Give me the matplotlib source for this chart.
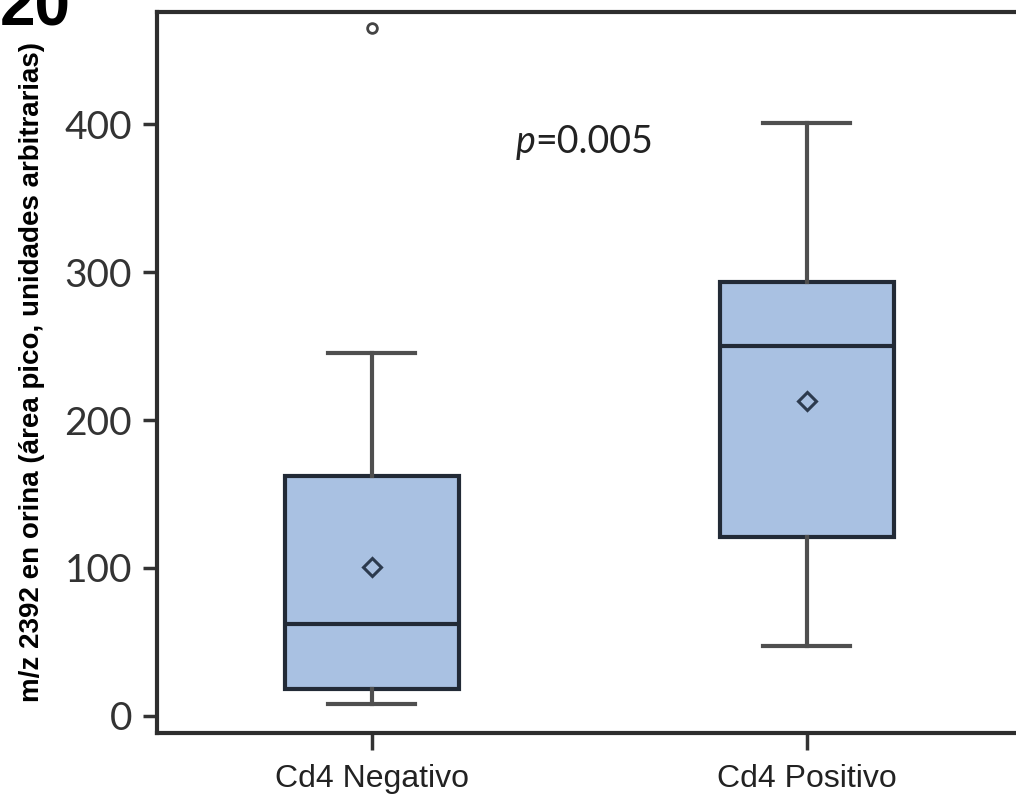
import matplotlib
matplotlib.use("Agg")
import matplotlib.pyplot as plt
from matplotlib import font_manager

#%% datos
grupos = ["Cd4 Negativo", "Cd4 Positivo"]
q1 = [18, 121]
mediana = [62, 250]
q3 = [162, 293]
bigote_inf = [8, 47]
bigote_sup = [245, 401]
media = [101, 213]
atipicos = [[465], []]

yticks = [0, 100, 200, 300, 400]
p_texto = "=0.005"

#%% fuentes
nombres = {f.name for f in font_manager.fontManager.ttflist}
fuente_eje = "Liberation Sans Narrow" if "Liberation Sans Narrow" in nombres else "Liberation Sans"
fuente_num = "Lato"

#%% grafico
fig = plt.figure(figsize=(10.16, 7.98), dpi=100)
ax = fig.add_axes([157/1016, 1 - 733/798, (1024 - 157)/1016, (733 - 12)/798])

stats = []
for i in range(len(grupos)):
    stats.append({
        "label": grupos[i], "q1": q1[i], "med": mediana[i], "q3": q3[i],
        "whislo": bigote_inf[i], "whishi": bigote_sup[i],
        "mean": media[i], "fliers": atipicos[i],
    })

ax.bxp(stats, positions=[0, 1], widths=0.40, patch_artist=True,
       showmeans=True, showcaps=True,
       boxprops=dict(facecolor="#a9c1e2", edgecolor="#222a36", linewidth=3),
       medianprops=dict(color="#222a36", linewidth=3),
       whiskerprops=dict(color="#4f4f4f", linewidth=3),
       capprops=dict(color="#4f4f4f", linewidth=3),
       meanprops=dict(marker="D", markersize=9, markerfacecolor="none",
                      markeredgecolor="#2c3a4e", markeredgewidth=2.2),
       flierprops=dict(marker="o", markersize=7, markerfacecolor="none",
                       markeredgecolor="#444444", markeredgewidth=2))

ax.set_xlim(-0.494, 1.5)
ax.set_ylim((716 - 733) / 1.48, (716 - 12) / 1.48)
ax.set_yticks(yticks)
ax.set_yticklabels([str(v) for v in yticks], fontsize=28, family=fuente_num, color="#333333")
ax.set_xticks([0, 1])
ax.set_xticklabels(grupos, fontsize=23, family="Liberation Sans", color="#222222")
ax.tick_params(axis="y", length=10, width=2.5, color="#333333", pad=8)
ax.tick_params(axis="x", length=12, width=2.5, color="#333333", pad=10)
for lado in ax.spines.values():
    lado.set_linewidth(3)
    lado.set_color("#2e2e2e")

ax.set_ylabel("m/z 2392 en orina (área pico, unidades arbitrarias)",
              fontsize=20, fontweight="bold", family=fuente_eje, labelpad=14)

ax.text(0.33, 388, "p", style="italic", fontsize=27, family=fuente_num, color="#222222",
        ha="left", va="center")
ax.text(0.377, 388, p_texto, fontsize=27, family=fuente_num, color="#222222",
        ha="left", va="center")

fig.text(0.0, 1.027, "20", fontsize=46, fontweight="bold", family="Liberation Sans",
         ha="left", va="top")

fig.savefig("out.png", dpi=100)
